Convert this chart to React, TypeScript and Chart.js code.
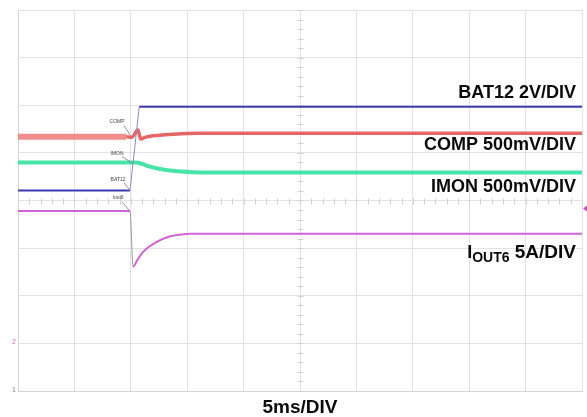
import React, { useEffect, useRef } from 'react';
import { Chart, registerables } from 'chart.js';

Chart.register(...registerables);

// Time axis in ms (5 ms/div, 10 divisions); vertical values in screen divisions (0..8)
const X_MIN = 0;
const X_MAX = 50;
const Y_MIN = 0;
const Y_MAX = 8;

const bat12Time = [0, 9.93, 10.75, 50];
const bat12Div = [4.21, 4.21, 5.97, 5.97];

const compTime = [0, 9.6, 10.08, 10.64, 10.88, 11.3, 12.0, 13.0, 14.5, 16.1, 20, 50];
const compDiv = [5.34, 5.34, 5.33, 5.48, 5.29, 5.33, 5.36, 5.38, 5.4, 5.41, 5.41, 5.41];

const imonTime = [0, 10.4, 11.0, 11.7, 12.6, 13.5, 14.4, 16.1, 50];
const imonDiv = [4.8, 4.8, 4.77, 4.71, 4.66, 4.63, 4.61, 4.59, 4.59];

const ioutTime = [0, 9.93, 10.2, 10.6, 11.1, 11.6, 12.15, 12.8, 13.5, 14.3, 15.3, 50];
const ioutDiv = [3.78, 3.78, 2.61, 2.76, 2.92, 3.03, 3.11, 3.19, 3.25, 3.28, 3.3, 3.3];

const channelLabels = ['BAT12 2V/DIV', 'COMP 500mV/DIV', 'IMON 500mV/DIV'];
const channelLabelDiv = [6.25, 5.16, 4.28];
const ioutLabelMain = 'I';
const ioutLabelSub = 'OUT6';
const ioutLabelRest = ' 5A/DIV';
const ioutLabelDiv = 2.9;
const xAxisTitle = '5ms/DIV';

// small on-trace probe labels: [text, labelX, labelY, lineFromX, lineFromY, lineToX, lineToY]
const probeLabels: [string, number, number, number, number, number, number][] = [
  ['COMP', 8.78, 5.65, 9.4, 5.57, 9.93, 5.38],
  ['IMON', 8.78, 4.98, 9.22, 4.92, 10.11, 4.79],
  ['BAT12', 8.87, 4.43, 9.4, 4.37, 9.84, 4.24],
  ['Iout6', 8.87, 4.05, 9.22, 3.97, 9.84, 3.8],
];

const toPts = (xs: number[], ys: number[]) => xs.map((x, i) => ({ x, y: ys[i] }));

const FONT = '"Liberation Sans", Arial, Helvetica, sans-serif';

const overlayPlugin = {
  id: 'scopeOverlay',
  beforeDatasetsDraw(chart: any) {
    const { ctx, scales } = chart;
    const xs = scales.x;
    const ys = scales.y;
    ctx.save();
    ctx.strokeStyle = '#cfcfcf';
    ctx.lineWidth = 1;
    const cx = Math.round(xs.getPixelForValue((X_MIN + X_MAX) / 2)) + 0.5;
    const cy = Math.round(ys.getPixelForValue((Y_MIN + Y_MAX) / 2)) + 0.5;
    ctx.beginPath();
    for (let v = Y_MIN; v <= Y_MAX + 1e-6; v += 0.2) {
      const y = Math.round(ys.getPixelForValue(v)) + 0.5;
      ctx.moveTo(cx - 3, y);
      ctx.lineTo(cx + 3, y);
    }
    for (let v = X_MIN; v <= X_MAX + 1e-6; v += 1) {
      const x = Math.round(xs.getPixelForValue(v)) + 0.5;
      ctx.moveTo(x, cy - 3);
      ctx.lineTo(x, cy + 3);
    }
    ctx.stroke();
    ctx.restore();
  },
  afterDatasetsDraw(chart: any) {
    const { ctx, chartArea, scales } = chart;
    const xs = scales.x;
    const ys = scales.y;
    ctx.save();
    // probe labels
    ctx.font = `5px ${FONT}`;
    ctx.textAlign = 'center';
    ctx.textBaseline = 'middle';
    for (const [t, lx, ly, ax, ay, bx, by] of probeLabels) {
      ctx.fillStyle = '#444';
      ctx.fillText(t, xs.getPixelForValue(lx), ys.getPixelForValue(ly));
      ctx.strokeStyle = '#777';
      ctx.lineWidth = 0.8;
      ctx.beginPath();
      ctx.moveTo(xs.getPixelForValue(ax), ys.getPixelForValue(ay));
      ctx.lineTo(xs.getPixelForValue(bx), ys.getPixelForValue(by));
      ctx.stroke();
    }
    // channel labels
    const right = chartArea.right - 6;
    ctx.fillStyle = '#0a0a0a';
    ctx.textAlign = 'right';
    ctx.textBaseline = 'middle';
    ctx.font = `bold 18px ${FONT}`;
    channelLabels.forEach((t, i) => {
      ctx.fillText(t, right, ys.getPixelForValue(channelLabelDiv[i]));
    });
    // IOUT6 label with subscript
    const iy = ys.getPixelForValue(ioutLabelDiv);
    ctx.font = `bold 19px ${FONT}`;
    const wRest = ctx.measureText(ioutLabelRest).width;
    ctx.fillText(ioutLabelRest, right, iy);
    ctx.font = `bold 14px ${FONT}`;
    const wSub = ctx.measureText(ioutLabelSub).width;
    ctx.fillText(ioutLabelSub, right - wRest, iy + 5);
    ctx.font = `bold 18px ${FONT}`;
    ctx.fillText(ioutLabelMain, right - wRest - wSub, iy);
    // x axis title
    ctx.textAlign = 'center';
    ctx.font = `bold 19px ${FONT}`;
    ctx.fillText(xAxisTitle, (chartArea.left + chartArea.right) / 2, chartArea.bottom + 17);
    // channel markers on left
    ctx.font = `7px ${FONT}`;
    ctx.fillStyle = '#d070c0';
    ctx.fillText('2', chartArea.left - 4, ys.getPixelForValue(1.03));
    ctx.fillStyle = '#7090b0';
    ctx.fillText('1', chartArea.left - 4, ys.getPixelForValue(0.02));
    // trigger marker right
    ctx.fillStyle = '#c050c0';
    const ty = ys.getPixelForValue(3.83);
    ctx.beginPath();
    ctx.moveTo(chartArea.right + 1, ty);
    ctx.lineTo(chartArea.right + 5, ty - 3);
    ctx.lineTo(chartArea.right + 5, ty + 3);
    ctx.closePath();
    ctx.fill();
    ctx.restore();
  },
};

export default function App() {
  const canvasRef = useRef<HTMLCanvasElement | null>(null);

  useEffect(() => {
    if (!canvasRef.current) return;
    const chart = new Chart(canvasRef.current, {
      type: 'line',
      data: {
        datasets: [
          {
            label: 'BAT12',
            data: toPts(bat12Time, bat12Div),
            borderColor: '#3b3bb3',
            borderWidth: 2,
            pointRadius: 0,
            tension: 0,
            segment: {
              borderColor: (c: any) => (c.p0DataIndex === 1 ? '#8a8ab8' : undefined),
              borderWidth: (c: any) => (c.p0DataIndex === 1 ? 1 : undefined),
            },
          },
          {
            label: 'COMP',
            data: toPts(compTime, compDiv),
            borderColor: '#e46666',
            borderWidth: 3.5,
            pointRadius: 0,
            cubicInterpolationMode: 'monotone',
            segment: {
              borderColor: (c: any) => (c.p0DataIndex === 0 ? 'rgba(238, 112, 112, 0.8)' : undefined),
              borderWidth: (c: any) => (c.p0DataIndex === 0 ? 6 : undefined),
            },
          },
          {
            label: 'IMON',
            data: toPts(imonTime, imonDiv),
            borderColor: 'rgba(60, 228, 162, 0.95)',
            borderWidth: 4,
            pointRadius: 0,
            cubicInterpolationMode: 'monotone',
          },
          {
            label: 'IOUT6',
            data: toPts(ioutTime, ioutDiv),
            borderColor: '#d062d4',
            borderWidth: 2,
            pointRadius: 0,
            cubicInterpolationMode: 'monotone',
            segment: {
              borderColor: (c: any) => (c.p0DataIndex === 1 ? '#999999' : undefined),
              borderWidth: (c: any) => (c.p0DataIndex === 1 ? 1 : undefined),
            },
          },
        ],
      },
      options: {
        animation: false,
        responsive: true,
        maintainAspectRatio: false,
        layout: { padding: { left: 18, top: 10, right: 5, bottom: 26 } },
        plugins: {
          legend: { display: false },
          tooltip: { enabled: false },
          title: { display: false },
        },
        scales: {
          x: {
            type: 'linear',
            min: X_MIN,
            max: X_MAX,
            ticks: { display: false, stepSize: 5 },
            grid: { color: '#e2e2e2', drawTicks: false, lineWidth: 1 },
            border: { display: true, color: '#d4d4d4' },
          },
          y: {
            type: 'linear',
            min: Y_MIN,
            max: Y_MAX,
            ticks: { display: false, stepSize: 1 },
            grid: { color: '#e2e2e2', drawTicks: false, lineWidth: 1 },
            border: { display: true, color: '#d4d4d4' },
          },
        },
      },
      plugins: [overlayPlugin],
    });
    return () => chart.destroy();
  }, []);

  return (
    <div style={{ position: 'absolute', left: 0, top: 0, width: 587, height: 417, background: '#fff' }}>
      <canvas ref={canvasRef} />
    </div>
  );
}
